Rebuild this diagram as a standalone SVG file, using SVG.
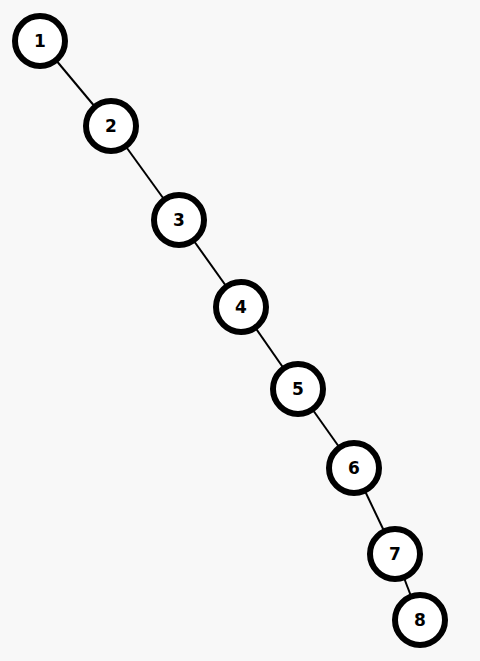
<svg xmlns="http://www.w3.org/2000/svg" width="480" height="661" viewBox="0 0 480 661">
<style>
.n{fill:#fff;stroke:#000;stroke-width:6}
.t{font-family:"DejaVu Sans",sans-serif;font-weight:bold;font-size:17px;fill:#000;text-anchor:middle;dominant-baseline:central}
.e{stroke:#000;stroke-width:2;fill:none}
</style>
<rect width="480" height="661" fill="#f8f8f8"/>
<g id="edges">
<line class="e" x1="40" y1="41" x2="111" y2="126"/>
<line class="e" x1="111" y1="126" x2="179" y2="220"/>
<line class="e" x1="179" y1="220" x2="241" y2="307"/>
<line class="e" x1="241" y1="307" x2="298" y2="389"/>
<line class="e" x1="298" y1="389" x2="354" y2="468"/>
<line class="e" x1="354" y1="468" x2="395" y2="554"/>
<line class="e" x1="395" y1="554" x2="420" y2="620"/>
</g>
<g id="n1"><circle class="n" cx="40" cy="41" r="25"/><text class="t" x="40" y="41">1</text></g>
<g id="n2"><circle class="n" cx="111" cy="126" r="25"/><text class="t" x="111" y="126">2</text></g>
<g id="n3"><circle class="n" cx="179" cy="220" r="25"/><text class="t" x="179" y="220">3</text></g>
<g id="n4"><circle class="n" cx="241" cy="307" r="25"/><text class="t" x="241" y="307">4</text></g>
<g id="n5"><circle class="n" cx="298" cy="389" r="25"/><text class="t" x="298" y="389">5</text></g>
<g id="n6"><circle class="n" cx="354" cy="468" r="25"/><text class="t" x="354" y="468">6</text></g>
<g id="n7"><circle class="n" cx="395" cy="554" r="25"/><text class="t" x="395" y="554">7</text></g>
<g id="n8"><circle class="n" cx="420" cy="620" r="25"/><text class="t" x="420" y="620">8</text></g>
</svg>
